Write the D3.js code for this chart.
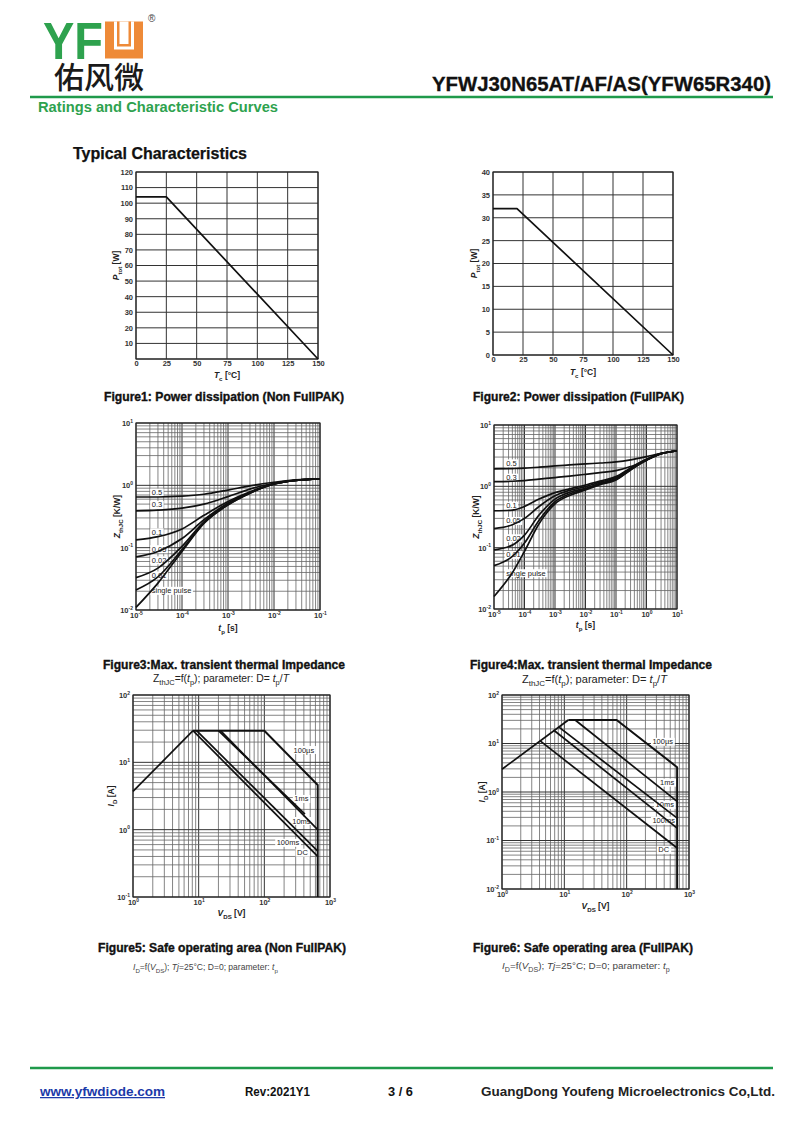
<!DOCTYPE html>
<html><head><meta charset="utf-8">
<script src="https://cdn.jsdelivr.net/npm/d3@7"></script>
<style>
body{margin:0;background:#fff}
svg{display:block;font-family:"Liberation Sans",Arial,sans-serif}
</style>
</head><body>
<script>
// ---------------- DATA ----------------
// Figure 1: Power dissipation (Non FullPAK)
const f1Tc = [0, 25, 150];
const f1Ptot = [104, 104, 0];
const f1XTicks = [0, 25, 50, 75, 100, 125, 150];
const f1YGrid = [0, 10, 20, 30, 40, 50, 60, 70, 80, 90, 100, 110, 120];
const f1YTicks = [10, 20, 30, 40, 50, 60, 70, 80, 90, 100, 110, 120];

// Figure 2: Power dissipation (FullPAK)
const f2Tc = [0, 20, 150];
const f2Ptot = [32, 32, 0];
const f2XTicks = [0, 25, 50, 75, 100, 125, 150];
const f2YTicks = [0, 5, 10, 15, 20, 25, 30, 35, 40];

// Figure 3: Max. transient thermal impedance (Non FullPAK)
const f3Tp = [1e-5, 3e-5, 1e-4, 3e-4, 1e-3, 3e-3, 1e-2, 3e-2, 1e-1];
const dNames = ["0.5", "0.3", "0.1", "0.05", "0.02", "0.01", "single pulse"];
const f3Z05 = [0.65, 0.65, 0.67, 0.72, 0.84, 0.98, 1.12, 1.22, 1.27];
const f3Z03 = [0.39, 0.40, 0.43, 0.50, 0.66, 0.87, 1.08, 1.21, 1.27];
const f3Z01 = [0.133, 0.15, 0.20, 0.33, 0.55, 0.79, 1.06, 1.20, 1.27];
const f3Z005 = [0.071, 0.087, 0.14, 0.28, 0.52, 0.77, 1.05, 1.20, 1.27];
const f3Z002 = [0.033, 0.047, 0.105, 0.26, 0.50, 0.76, 1.05, 1.20, 1.27];
const f3Z001 = [0.021, 0.034, 0.093, 0.25, 0.49, 0.75, 1.05, 1.20, 1.27];
const f3Zsp = [0.011, 0.027, 0.087, 0.245, 0.485, 0.75, 1.05, 1.20, 1.27];
const f3LabelTp = 2.2e-5;
const f3LabelZ = [0.766, 0.486, 0.177, 0.095, 0.063, 0.036, 0.0204];

// Figure 4: Max. transient thermal impedance (FullPAK)
const f4Tp = [1e-5, 4e-5, 1e-4, 3e-4, 1e-3, 3e-3, 1e-2, 3e-2, 1e-1, 3e-1, 1e0, 3e0, 1e1];
const f4Z05 = [1.92, 1.95, 1.98, 2.05, 2.15, 2.23, 2.32, 2.40, 2.50, 2.70, 3.05, 3.46, 3.77];
const f4Z03 = [1.19, 1.21, 1.24, 1.31, 1.39, 1.47, 1.57, 1.67, 1.80, 2.10, 2.70, 3.40, 3.77];
const f4Z01 = [0.40, 0.41, 0.47, 0.62, 0.79, 0.91, 1.05, 1.22, 1.44, 2.00, 2.76, 3.42, 3.77];
const f4Z005 = [0.205, 0.236, 0.30, 0.47, 0.70, 0.86, 0.99, 1.17, 1.39, 1.95, 2.73, 3.42, 3.77];
const f4Z002 = [0.092, 0.11, 0.16, 0.34, 0.62, 0.80, 0.93, 1.12, 1.34, 1.90, 2.70, 3.41, 3.77];
const f4Z001 = [0.051, 0.072, 0.119, 0.28, 0.56, 0.75, 0.90, 1.09, 1.30, 1.87, 2.68, 3.41, 3.77];
const f4Zsp = [0.016, 0.039, 0.087, 0.245, 0.52, 0.71, 0.87, 1.06, 1.27, 1.85, 2.66, 3.40, 3.77];
const f4LabelTp = 2.5e-5;
const f4LabelZ = [2.38, 1.39, 0.485, 0.274, 0.143, 0.0766, 0.0385];

// Figure 5: Safe operating area (Non FullPAK)
const f5Names = ["limit", "100µs", "1ms", "10ms", "100ms", "DC"];
const f5V = [[1, 8.2], [8.2, 100, 650, 650], [20, 415], [21.5, 650], [9.3, 650], [8.2, 650]];
const f5I = [[3.7, 29.5], [29.5, 29.5, 4.6, 0.1], [29.5, 1.7], [29.5, 1.0], [29.5, 0.48], [29.5, 0.40]];
const f5LabelV = [400, 367, 367, 229, 380];
const f5LabelI = [15.3, 2.87, 1.35, 0.64, 0.457];

// Figure 6: Safe operating area (FullPAK)
const f6Names = ["limit", "100µs", "1ms", "10ms", "100ms", "DC"];
const f6V = [[1, 11.6], [11.6, 69, 645, 645], [14.9, 645], [8.1, 645], [6.7, 645], [4.1, 645]];
const f6I = [[2.95, 30.5], [30.5, 30.5, 3.25, 0.01], [30.5, 0.64], [22, 0.29], [19, 0.18], [11.3, 0.07]];
const f6LabelV = [379, 447, 408, 393, 393];
const f6LabelI = [10.9, 1.57, 0.545, 0.259, 0.0645];

// ---------------- DRAWING ----------------
const svg = d3.select("body").append("svg").attr("width", 800).attr("height", 1131);
const GREEN = "#2ea24e", ORANGE = "#ee8a38";

// rich text helper: parts [[text, flags]] flags: i=italic, s=sub, S=sup
function rich(sel, parts, fs) {
  let shift = 0;
  parts.forEach(([txt, fl]) => {
    fl = fl || "";
    let target = 0, size = fs;
    if (fl.includes("s")) { target = fs * 0.3; size = fs * 0.72; }
    if (fl.includes("S")) { target = -fs * 0.45; size = fs * 0.72; }
    const t = sel.append("tspan").text(txt).attr("font-size", size);
    if (target - shift !== 0) t.attr("dy", target - shift);
    if (fl.includes("i")) t.attr("font-style", "italic");
    shift = target;
  });
}
// rich text fitted to a target width by adjusting font size
function richFit(sel, parts, fs, width) {
  rich(sel, parts, fs);
  const w = sel.node().getComputedTextLength();
  sel.selectAll("tspan").remove();
  rich(sel, parts, fs * width / w);
}

function logGrid(dom) {
  const out = [];
  const e0 = Math.round(Math.log10(dom[0])), e1 = Math.round(Math.log10(dom[1]));
  for (let e = e0; e <= e1; e++) {
    for (let m = 1; m <= 9; m++) {
      const v = m * Math.pow(10, e);
      if (v >= dom[0] * 0.999 && v <= dom[1] * 1.001) out.push({ v, major: m === 1 });
    }
  }
  return out;
}
function logMajors(dom) {
  const out = [];
  const e0 = Math.round(Math.log10(dom[0])), e1 = Math.round(Math.log10(dom[1]));
  for (let e = e0; e <= e1; e++) out.push(Math.pow(10, e));
  return out;
}

function chart(c) {
  const g = svg.append("g");
  const x = (c.xlog ? d3.scaleLog() : d3.scaleLinear()).domain(c.xd).range([c.l, c.r]);
  const y = (c.ylog ? d3.scaleLog() : d3.scaleLinear()).domain(c.yd).range([c.b, c.t]);
  const xg = c.xlog ? logGrid(c.xd) : c.xGrid.map(v => ({ v, major: true }));
  const yg = c.ylog ? logGrid(c.yd) : c.yGrid.map(v => ({ v, major: true }));
  const gridG = g.append("g");
  gridG.selectAll(".gx").data(xg).join("line")
    .attr("x1", d => x(d.v)).attr("x2", d => x(d.v)).attr("y1", c.t).attr("y2", c.b)
    .attr("stroke", d => d.major ? "#333" : "#666").attr("stroke-width", d => d.major ? 1 : 0.8);
  gridG.selectAll(".gy").data(yg).join("line")
    .attr("y1", d => y(d.v)).attr("y2", d => y(d.v)).attr("x1", c.l).attr("x2", c.r)
    .attr("stroke", d => d.major ? "#333" : "#666").attr("stroke-width", d => d.major ? 1 : 0.8);
  gridG.append("rect").attr("x", c.l).attr("y", c.t).attr("width", c.r - c.l).attr("height", c.b - c.t)
    .attr("fill", "none").attr("stroke", "#222").attr("stroke-width", 1.1);

  const fmtLog = function (sel) {
    sel.selectAll(".tick text").each(function (d) {
      const t = d3.select(this); t.text("");
      t.append("tspan").text("10");
      t.append("tspan").attr("dy", -3.2).attr("font-size", 5).text(Math.round(Math.log10(d)));
    });
  };
  const ax = d3.axisBottom(x).tickSize(0).tickPadding(c.xpad || 3)
    .tickValues(c.xlog ? logMajors(c.xd) : c.xTicks);
  const ay = d3.axisLeft(y).tickSize(0).tickPadding(c.ypad || 3)
    .tickValues(c.ylog ? logMajors(c.yd) : c.yTicks);
  const gx = g.append("g").attr("transform", `translate(0,${c.b})`).call(ax);
  const gy = g.append("g").attr("transform", `translate(${c.l},0)`).call(ay);
  [gx, gy].forEach(a => {
    a.select(".domain").remove();
    a.attr("font-family", null).attr("font-size", 7.5).attr("font-weight", "bold");
    a.selectAll("text").attr("fill", "#333");
  });
  if (c.xlog) fmtLog(gx);
  if (c.ylog) fmtLog(gy);

  const tx = g.append("text").attr("x", (c.l + c.r) / 2).attr("y", c.xtY)
    .attr("text-anchor", "middle").attr("font-weight", "bold").attr("fill", "#222");
  rich(tx, c.xTitle, 8.5);
  const ty = g.append("text").attr("transform", `translate(${c.ytX},${(c.t + c.b) / 2}) rotate(-90)`)
    .attr("text-anchor", "middle").attr("font-weight", "bold").attr("fill", "#222");
  rich(ty, c.yTitle, 8.5);

  const bgG = g.append("g"), curG = g.append("g"), txtG = g.append("g");
  const line = d3.line().x(d => x(d[0])).y(d => y(d[1])).curve(c.curve || d3.curveLinear);
  c.series.forEach(s => {
    curG.append("path").attr("d", line(d3.zip(s.xs, s.ys)))
      .attr("fill", "none").attr("stroke", "#111").attr("stroke-width", s.w || 1.7)
      .attr("stroke-linejoin", "round");
  });
  (c.labels || []).forEach(L => {
    const t = txtG.append("text").attr("x", x(L.x)).attr("y", y(L.y)).attr("dy", "0.35em")
      .attr("text-anchor", L.anchor || "middle").attr("font-size", 7.5).attr("fill", "#222").text(L.t);
    const bb = t.node().getBBox();
    bgG.append("rect").attr("x", bb.x - 1.5).attr("y", bb.y + 0.5).attr("width", bb.width + 3)
      .attr("height", bb.height - 1).attr("fill", "#fff");
  });
  return g;
}

function caption(x, y, txt, len, fs) {
  svg.append("text").attr("x", x).attr("y", y).attr("font-weight", "bold").attr("font-size", fs || 12)
    .attr("fill", "#111").attr("stroke", "#111").attr("stroke-width", 0.35)
    .attr("textLength", len).attr("lengthAdjust", "spacingAndGlyphs").text(txt);
}
function subcap(x, y, parts, len, fs, col) {
  const t = svg.append("text").attr("x", x).attr("y", y).attr("fill", col || "#222");
  richFit(t, parts, fs, len);
}

// ---------- Header ----------
svg.append("text").attr("x", 43).attr("y", 58.5).attr("font-size", 51).attr("font-weight", "bold")
  .attr("fill", GREEN).attr("textLength", 60).attr("lengthAdjust", "spacingAndGlyphs").text("YF");
svg.append("rect").attr("x", 105).attr("y", 21.5).attr("width", 38).attr("height", 37).attr("fill", ORANGE);
svg.append("rect").attr("x", 114).attr("y", 21.5).attr("width", 20).attr("height", 28).attr("fill", "#fff");
svg.append("rect").attr("x", 117).attr("y", 21.5).attr("width", 14).attr("height", 25).attr("fill", ORANGE);
svg.append("rect").attr("x", 119.5).attr("y", 21.5).attr("width", 9).attr("height", 22.5).attr("fill", "#fff");
svg.append("text").attr("x", 148).attr("y", 22).attr("font-size", 10).attr("fill", "#444").text("®");
svg.append("text").attr("x", 54).attr("y", 88).attr("font-size", 30)
  .attr("font-family", "'Noto Sans CJK SC'").attr("font-weight", 500).attr("fill", "#1a1a1a")
  .attr("textLength", 90).text("佑风微");
svg.append("text").attr("x", 432).attr("y", 91).attr("font-size", 20).attr("font-weight", "bold")
  .attr("fill", "#111").attr("stroke", "#111").attr("stroke-width", 0.3)
  .attr("textLength", 339).attr("lengthAdjust", "spacingAndGlyphs")
  .text("YFWJ30N65AT/AF/AS(YFW65R340)");
svg.append("line").attr("x1", 30).attr("x2", 773).attr("y1", 97).attr("y2", 97)
  .attr("stroke", "#1f9a4b").attr("stroke-width", 2.5);
svg.append("text").attr("x", 38).attr("y", 111.5).attr("font-size", 14.5).attr("font-weight", "bold")
  .attr("fill", GREEN).attr("textLength", 240).attr("lengthAdjust", "spacingAndGlyphs")
  .text("Ratings and Characteristic Curves");
svg.append("text").attr("x", 73).attr("y", 158.5).attr("font-size", 16).attr("font-weight", "bold")
  .attr("fill", "#111").attr("stroke", "#111").attr("stroke-width", 0.25)
  .attr("textLength", 174).attr("lengthAdjust", "spacingAndGlyphs")
  .text("Typical Characteristics");

// ---------- Figure 1 ----------
chart({
  l: 136, r: 318, t: 172, b: 359, xd: [0, 150], yd: [0, 120],
  xGrid: f1XTicks, yGrid: f1YGrid, xTicks: f1XTicks, yTicks: f1YTicks, xpad: 2,
  xTitle: [["T", "i"], ["c", "s"], [" [°C]", ""]], xtY: 378,
  yTitle: [["P", "i"], ["tot", "s"], [" [W]", ""]], ytX: 119,
  series: [{ xs: f1Tc, ys: f1Ptot }]
});
caption(104, 401, "Figure1: Power dissipation (Non FullPAK)", 240);

// ---------- Figure 2 ----------
chart({
  l: 493, r: 673, t: 172, b: 355, xd: [0, 150], yd: [0, 40],
  xGrid: f2XTicks, yGrid: f2YTicks, xTicks: f2XTicks, yTicks: f2YTicks, xpad: 2,
  xTitle: [["T", "i"], ["c", "s"], [" [°C]", ""]], xtY: 375,
  yTitle: [["P", "i"], ["tot", "s"], [" [W]", ""]], ytX: 477,
  series: [{ xs: f2Tc, ys: f2Ptot }]
});
caption(473, 401, "Figure2: Power dissipation (FullPAK)", 211);

// ---------- Figure 3 ----------
const f3Z = [f3Z05, f3Z03, f3Z01, f3Z005, f3Z002, f3Z001, f3Zsp];
chart({
  l: 136, r: 320, t: 423, b: 610, xlog: true, ylog: true, xd: [1e-5, 1e-1], yd: [1e-2, 1e1],
  xTitle: [["t", "i"], ["p", "s"], [" [s]", ""]], xtY: 631,
  yTitle: [["Z", "i"], ["thJC", "s"], [" [K/W]", ""]], ytX: 120,
  curve: d3.curveMonotoneX,
  series: f3Z.map(z => ({ xs: f3Tp, ys: z })),
  labels: dNames.map((t, i) => ({ t, x: f3LabelTp, y: f3LabelZ[i], anchor: "start" }))
});
caption(103, 669, "Figure3:Max. transient thermal Impedance", 242);
subcap(153, 682, [["Z", ""], ["thJC", "s"], ["=f(", ""], ["t", "i"], ["p", "s"], ["); parameter: D= ", ""], ["t", "i"], ["p", "s"], ["/", ""], ["T", "i"]], 136, 10.5);

// ---------- Figure 4 ----------
const f4Z = [f4Z05, f4Z03, f4Z01, f4Z005, f4Z002, f4Z001, f4Zsp];
chart({
  l: 494, r: 677, t: 425, b: 609, xlog: true, ylog: true, xd: [1e-5, 1e1], yd: [1e-2, 1e1],
  xTitle: [["t", "i"], ["p", "s"], [" [s]", ""]], xtY: 628,
  yTitle: [["Z", "i"], ["thJC", "s"], [" [K/W]", ""]], ytX: 479,
  curve: d3.curveMonotoneX,
  series: f4Z.map(z => ({ xs: f4Tp, ys: z })),
  labels: dNames.map((t, i) => ({ t, x: f4LabelTp, y: f4LabelZ[i], anchor: "start" }))
});
caption(470, 669, "Figure4:Max. transient thermal Impedance", 242);
subcap(522, 683, [["Z", ""], ["thJC", "s"], ["=f(", ""], ["t", "i"], ["p", "s"], ["); parameter: D= ", ""], ["t", "i"], ["p", "s"], ["/", ""], ["T", "i"]], 145, 10.5);

// ---------- Figure 5 ----------
chart({
  l: 133, r: 330, t: 695, b: 897, xlog: true, ylog: true, xd: [1, 1e3], yd: [1e-1, 1e2],
  xTitle: [["V", "i"], ["DS", "s"], [" [V]", ""]], xtY: 916,
  yTitle: [["I", "i"], ["D", "s"], [" [A]", ""]], ytX: 114,
  series: f5V.map((v, i) => ({ xs: v, ys: f5I[i], w: i === 1 ? 2 : 1.7 })),
  labels: f5Names.slice(1).map((t, i) => ({ t, x: f5LabelV[i], y: f5LabelI[i] }))
});
caption(98, 952, "Figure5: Safe operating area (Non FullPAK)", 248);
subcap(133, 970, [["I", "i"], ["D", "s"], ["=f(", ""], ["V", "i"], ["DS", "s"], ["); ", ""], ["Tj", "i"], ["=25°C; D=0; parameter: ", ""], ["t", "i"], ["p", "s"]], 145, 9, "#444");

// ---------- Figure 6 ----------
chart({
  l: 502, r: 689, t: 695, b: 889, xlog: true, ylog: true, xd: [1, 1e3], yd: [1e-2, 1e2],
  xTitle: [["V", "i"], ["DS", "s"], [" [V]", ""]], xtY: 909,
  yTitle: [["I", "i"], ["D", "s"], [" [A]", ""]], ytX: 485,
  series: f6V.map((v, i) => ({ xs: v, ys: f6I[i], w: i === 1 ? 2 : 1.7 })),
  labels: f6Names.slice(1).map((t, i) => ({ t, x: f6LabelV[i], y: f6LabelI[i] }))
});
caption(473, 952, "Figure6: Safe operating area (FullPAK)", 220);
subcap(502, 969, [["I", "i"], ["D", "s"], ["=f(", ""], ["V", "i"], ["DS", "s"], ["); ", ""], ["Tj", "i"], ["=25°C; D=0; parameter: ", ""], ["t", "i"], ["p", "s"]], 168, 9.5, "#444");

// ---------- Footer ----------
svg.append("line").attr("x1", 30).attr("x2", 773).attr("y1", 1068).attr("y2", 1068)
  .attr("stroke", "#1f9a4b").attr("stroke-width", 2.5);
svg.append("text").attr("x", 40).attr("y", 1096).attr("font-size", 12.5).attr("font-weight", "bold")
  .attr("fill", "#1c3aa9").attr("text-decoration", "underline").attr("textLength", 125)
  .attr("lengthAdjust", "spacingAndGlyphs").text("www.yfwdiode.com");
svg.append("text").attr("x", 245).attr("y", 1096).attr("font-size", 12).attr("font-weight", "bold")
  .attr("fill", "#111").attr("textLength", 65).attr("lengthAdjust", "spacingAndGlyphs").text("Rev:2021Y1");
svg.append("text").attr("x", 388).attr("y", 1096).attr("font-size", 12).attr("font-weight", "bold")
  .attr("fill", "#111").attr("textLength", 25).attr("lengthAdjust", "spacingAndGlyphs").text("3 / 6");
svg.append("text").attr("x", 481).attr("y", 1096).attr("font-size", 12.5).attr("font-weight", "bold")
  .attr("fill", "#222").attr("textLength", 294).attr("lengthAdjust", "spacingAndGlyphs")
  .text("GuangDong Youfeng Microelectronics Co,Ltd.");
</script>
</body></html>
